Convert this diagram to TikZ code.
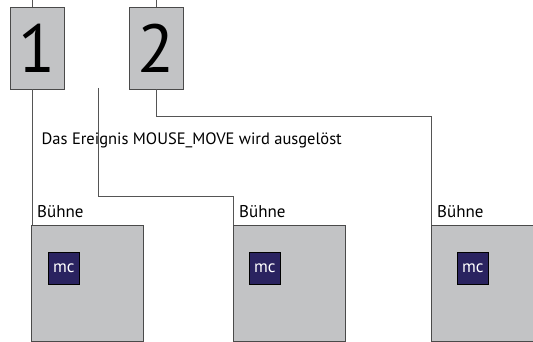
\documentclass[tikz,border=0pt]{standalone}
\usepackage{fontspec}
\setmainfont{PT Sans}
\definecolor{boxgray}{HTML}{C2C3C5}
\definecolor{edgegray}{HTML}{4A4A4A}
\definecolor{wiregray}{HTML}{555555}
\definecolor{clipnavy}{HTML}{2A2360}
\tikzset{
  numbox/.style={draw=edgegray, line width=0.9pt, fill=boxgray, minimum width=54pt, minimum height=82pt, inner sep=0pt, font=\fontsize{68}{68}\selectfont},
  stagebox/.style={draw=edgegray, line width=0.9pt, fill=boxgray, minimum width=112pt, minimum height=116pt, inner sep=0pt, anchor=north west},
  clipbox/.style={draw=black, line width=0.6pt, fill=clipnavy, minimum width=31pt, minimum height=32pt, inner sep=0pt, anchor=north west, text=white, font=\fontsize{17}{17}\selectfont},
  stagelabel/.style={anchor=base west, inner sep=0pt, font=\fontsize{17}{17}\selectfont},
  wire/.style={draw=wiregray, line width=0.8pt}
}
\begin{document}
\begin{tikzpicture}[x=1pt, y=-1pt]
\useasboundingbox[fill=white] (0,0) rectangle (533,342);

% the two numbered boxes
\node[numbox] (n1) at (37,48) {1};
\node[numbox] (n2) at (156,48) {2};

% three stages with their movie clips
\node[stagebox] (s1) at (31,225) {};
\node[stagebox] (s2) at (233,225) {};
\node[stagebox] (s3) at (431,225) {};
\node[stagelabel] (l1) at (37,218) {Bühne};
\node[stagelabel] (l2) at (239,218) {Bühne};
\node[stagelabel] (l3) at (437,218) {Bühne};
\node[clipbox] (c1) at (48,252) {mc};
\node[clipbox] (c2) at (249,252) {mc};
\node[clipbox] (c3) at (457,252) {mc};

% connecting lines
\coordinate (t1) at (32,0);
\coordinate (t2) at (156,0);
\coordinate (m0) at (98,88);
\coordinate (m1) at (233,196);
\coordinate (r1) at (431,116);
\draw[wire] (t1) -- (t1 |- n1.north);
\draw[wire] (t1 |- n1.south) -- (t1 |- s1.north);
\draw[wire] (t2) -- (n2.north);
\draw[wire] (n2.south) |- (r1) -- (s3.north west);
\draw[wire] (m0) |- (m1) -- (s2.north west);

% event caption, set over the line that crosses it
\node[anchor=base west, inner sep=0pt, font=\fontsize{16.5}{16.5}\selectfont] (ev) at (41.5,145) {Das Ereignis MOUSE\_MOVE wird ausgelöst};
\end{tikzpicture}
\end{document}
